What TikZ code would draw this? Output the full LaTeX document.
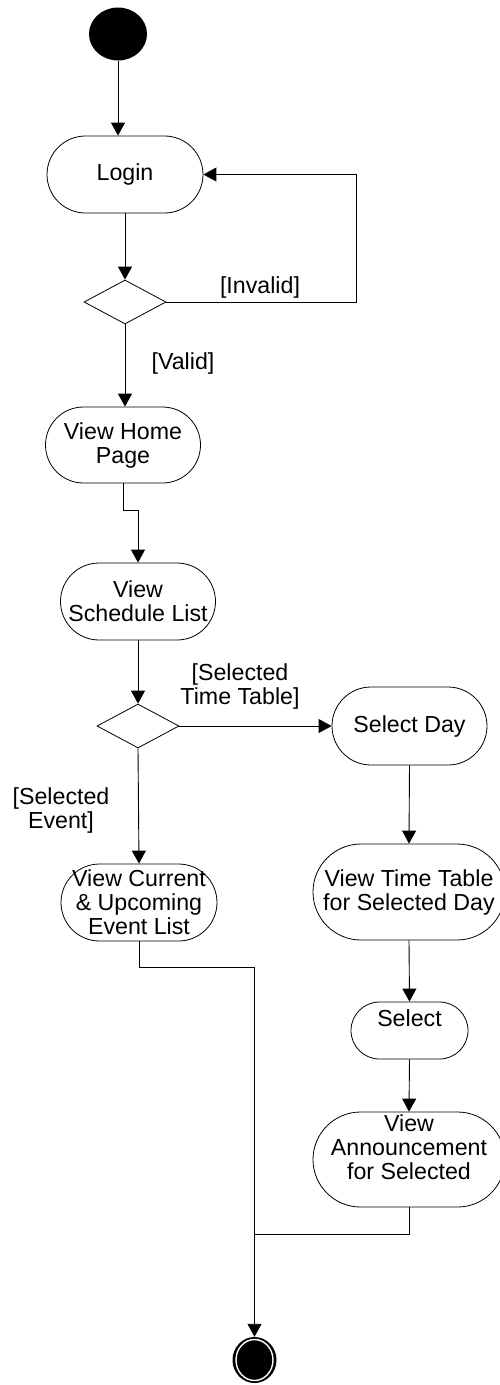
\documentclass[tikz,border=0pt]{standalone}
\usepackage{fontspec}
\setmainfont{Liberation Sans}
\usetikzlibrary{arrows.meta,shapes.geometric}
\begin{document}
\begin{tikzpicture}[x=1pt,y=-1pt]
\tikzset{
  base/.style={font=\fontsize{23.2}{24}\selectfont},
  act/.style 2 args={draw, line width=0.8pt, fill=white, rectangle, inner sep=0pt,
    align=center, minimum width=#1, minimum height=#2, rounded corners=#2/2, base},
  choice/.style={draw, line width=0.8pt, fill=white, diamond, inner sep=0pt,
    minimum width=82, minimum height=44},
  flow/.style={line width=0.9pt, -{Triangle[length=13pt,width=14pt]}},
  wire/.style={line width=0.9pt},
  guard/.style={base, align=center, inner sep=0pt},
}
\useasboundingbox (0,0) rectangle (499,1385);

% initial and final states
\node[ellipse, fill=black, minimum width=58, minimum height=53, inner sep=0pt] (start) at (118,34) {};
\node[ellipse, fill=black, minimum width=44, minimum height=46, inner sep=0pt] (stop) at (254.5,1360) {};
\draw[white, line width=1.4pt] (stop.center) ellipse [x radius=18.5, y radius=20.5];

% activities
\node[act={156}{77}] (login) at (125,174.5) {Login};
\node[choice] (d1) at (125,302) {};
\node[act={155}{76}] (home) at (123,445) {View Home\\Page};
\node[act={155}{77}] (sched) at (138,601.5) {View\\Schedule List};
\node[choice] (d2) at (138,726) {};
\node[act={155}{78}] (selday) at (409.5,726) {Select Day};
\node[act={156}{77}] (current) at (139,902.5) {View Current\\\& Upcoming\\Event List};
\node[act={192}{96}] (tt) at (409,892) {View Time Table\\for Selected Day};
\node[act={117}{57}] (sel) at (409.5,1030.5) {Select\\\mbox{}};
\node[act={192}{95}] (ann) at (409,1159.5) {View\\Announcement\\for Selected\\\mbox{}};

% guards
\node[guard] (g-invalid) at (260,287) {[Invalid]};
\node[guard] (g-valid) at (183,363) {[Valid]};
\node[guard] (g-tt) at (240,686) {[Selected\\Time Table]};
\node[guard] (g-event) at (61,810) {[Selected\\Event]};

% transitions
\coordinate (join) at (254.5,1234);
\draw[flow] (start) -- (start |- login.north);
\draw[flow] (login.south) -- (d1.north);
\draw[flow] (d1.east) -- ++(190,0) |- (login.east);
\draw[flow] (d1.south) -- (d1.south |- home.north);
\draw[flow] (home.south) -- ++(0,27) -| (sched.north);
\draw[flow] (sched.south) -- (d2.north);
\draw[flow] (d2.east) -- (selday.west);
\draw[flow] (d2.south) -- (current.north);
\draw[flow] (selday.south) -- (tt.north);
\draw[flow] (tt.south) -- (sel.north);
\draw[flow] (sel.south) -- (ann.north);
\draw[wire] (ann.south) |- (join);
\draw[flow] (current.south) -- ++(0,26) -| (stop.north);
\end{tikzpicture}
\end{document}
